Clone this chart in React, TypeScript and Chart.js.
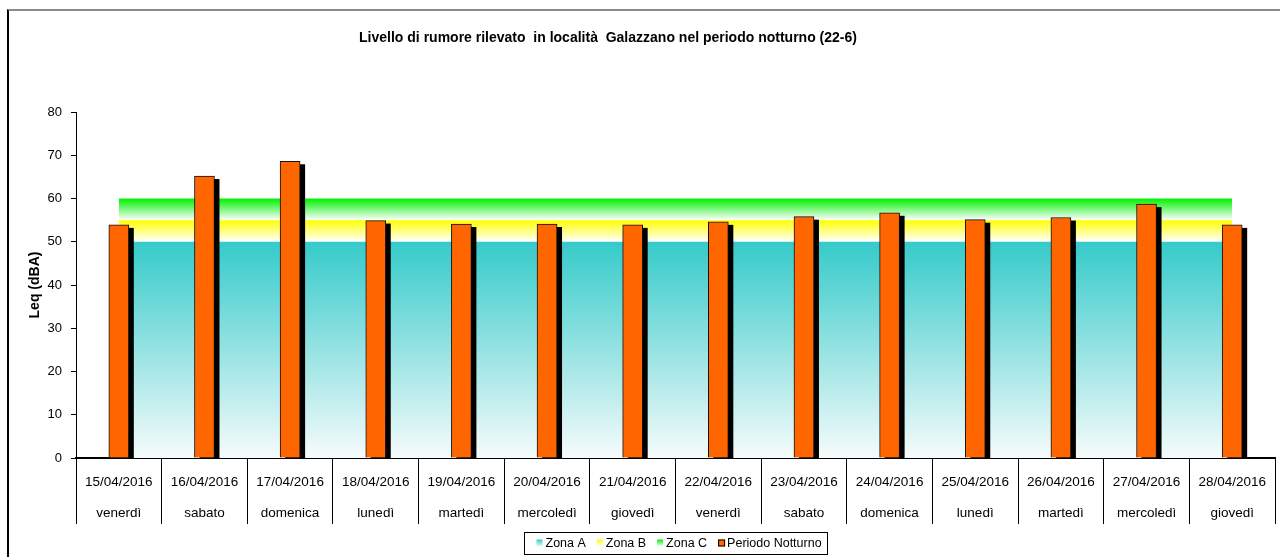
import React, { useEffect, useRef } from "react";
import { Chart, registerables } from "chart.js";

Chart.register(...registerables);

const FONT = "'Liberation Sans', Arial, Helvetica, sans-serif";

const titleText = "Livello di rumore rilevato  in località  Galazzano nel periodo notturno (22-6)";
const yAxisTitle = "Leq (dBA)";

const dates = [
  "15/04/2016", "16/04/2016", "17/04/2016", "18/04/2016", "19/04/2016", "20/04/2016", "21/04/2016",
  "22/04/2016", "23/04/2016", "24/04/2016", "25/04/2016", "26/04/2016", "27/04/2016", "28/04/2016",
];
const weekdays = [
  "venerdì", "sabato", "domenica", "lunedì", "martedì", "mercoledì", "giovedì",
  "venerdì", "sabato", "domenica", "lunedì", "martedì", "mercoledì", "giovedì",
];

const periodoNotturno = [53.9, 65.2, 68.6, 54.9, 54.1, 54.1, 53.9, 54.6, 55.8, 56.7, 55.1, 55.6, 58.7, 53.9];
const zonaA = [50, 50, 50, 50, 50, 50, 50, 50, 50, 50, 50, 50, 50, 50];
const zonaB = [55, 55, 55, 55, 55, 55, 55, 55, 55, 55, 55, 55, 55, 55];
const zonaC = [60, 60, 60, 60, 60, 60, 60, 60, 60, 60, 60, 60, 60, 60];

const yMin = 0;
const yMax = 80;
const yStep = 10;

const COLOR_A = "#36CACA";
const COLOR_B = "#FFFF00";
const COLOR_C = "#00F000";
const COLOR_BAR = "#FF6600";

function zoneGradient(context: any, top: number, bottom: number, color: string, bottomColor: string) {
  const chart = context.chart;
  const y = chart.scales && chart.scales.y;
  if (!chart.chartArea || !y) return color;
  const g = chart.ctx.createLinearGradient(0, y.getPixelForValue(top), 0, y.getPixelForValue(bottom));
  g.addColorStop(0, color);
  g.addColorStop(1, bottomColor);
  return g;
}

const barShadowPlugin = {
  id: "barShadow",
  beforeDatasetDraw(chart: any, args: any) {
    const meta = args.meta;
    if (meta.type !== "bar") return;
    const ctx = chart.ctx;
    const area = chart.chartArea;
    ctx.save();
    ctx.beginPath();
    ctx.rect(area.left, area.top, area.right - area.left, area.bottom - area.top);
    ctx.clip();
    ctx.fillStyle = "#000000";
    meta.data.forEach((el: any) => {
      const p = el.getProps(["x", "y", "base", "width"], true);
      ctx.fillRect(p.x - p.width / 2 + 5, p.y + 3, p.width, p.base - p.y);
    });
    ctx.restore();
  },
};

const decorPlugin = {
  id: "decor",
  afterDraw(chart: any) {
    const ctx = chart.ctx;
    const area = chart.chartArea;
    ctx.save();
    // Title
    ctx.fillStyle = "#000";
    ctx.font = `bold 14px ${FONT}`;
    ctx.textAlign = "center";
    ctx.textBaseline = "middle";
    ctx.fillText(titleText, 608, 38);

    // Legend
    const items = chart.data.datasets.map((d: any, i: number) => ({ label: d.label, i }));
    const order = [1, 2, 3, 0];
    ctx.font = `12.5px ${FONT}`;
    const sq = 6;
    const gapText = 3;
    const gapItem = 11;
    const padL = 12;
    const padR = 6;
    let total = padL + padR;
    order.forEach((idx, k) => {
      total += sq + gapText + ctx.measureText(items[idx].label).width;
      if (k < order.length - 1) total += gapItem;
    });
    const cx = (area.left + area.right) / 2;
    const left = Math.round(cx - total / 2) + 0.5;
    const top = 532.5;
    const h = 22;
    ctx.strokeStyle = "#000";
    ctx.lineWidth = 1;
    ctx.strokeRect(left, top, Math.round(total), h);
    let x = left + padL;
    const yc = top + h / 2;
    const legendColors: any = {
      1: [COLOR_A, "#f0fafa"],
      2: [COLOR_B, "#ffffff"],
      3: [COLOR_C, "#ffffff"],
    };
    order.forEach((idx) => {
      const lbl = items[idx].label;
      if (idx === 0) {
        ctx.fillStyle = COLOR_BAR;
        ctx.fillRect(x, yc - 4, 7, 7);
        ctx.strokeStyle = "#000";
        ctx.strokeRect(x + 0.5, yc - 3.5, 6, 6);
      } else {
        const [c1, c2] = legendColors[idx];
        const g = ctx.createLinearGradient(0, yc - 4, 0, yc + 3);
        g.addColorStop(0, c1);
        g.addColorStop(1, c2);
        ctx.fillStyle = g;
        ctx.fillRect(x, yc - 4, sq, 7);
      }
      x += sq + gapText;
      ctx.fillStyle = "#000";
      ctx.textAlign = "left";
      ctx.textBaseline = "middle";
      ctx.fillText(lbl, x, yc + 0.5);
      x += ctx.measureText(lbl).width + gapItem;
    });
    ctx.restore();
  },
};

export default function App() {
  const canvasRef = useRef<HTMLCanvasElement | null>(null);

  useEffect(() => {
    const canvas = canvasRef.current;
    if (!canvas) return;
    const labels = dates.map((d, i) => [d, weekdays[i]]);
    const chart = new Chart(canvas, {
      type: "bar",
      data: {
        labels,
        datasets: [
          {
            type: "bar",
            label: "Periodo Notturno",
            data: periodoNotturno,
            backgroundColor: COLOR_BAR,
            borderColor: "#111111",
            borderWidth: 1,
            barThickness: 20,
            order: 0,
          } as any,
          {
            type: "line",
            label: "Zona A",
            data: zonaA,
            fill: "origin",
            backgroundColor: (c: any) => zoneGradient(c, zonaA[0], yMin, COLOR_A, "#f6fbfb"),
            borderColor: "transparent",
            borderWidth: 0,
            pointRadius: 0,
            tension: 0,
            order: 1,
          } as any,
          {
            type: "line",
            label: "Zona B",
            data: zonaB,
            fill: "-1",
            backgroundColor: (c: any) => zoneGradient(c, zonaB[0], zonaA[0], COLOR_B, "#ffffff"),
            borderColor: "transparent",
            borderWidth: 0,
            pointRadius: 0,
            tension: 0,
            order: 2,
          } as any,
          {
            type: "line",
            label: "Zona C",
            data: zonaC,
            fill: "-1",
            backgroundColor: (c: any) => zoneGradient(c, zonaC[0], zonaB[0], COLOR_C, "#ffffff"),
            borderColor: "transparent",
            borderWidth: 0,
            pointRadius: 0,
            tension: 0,
            order: 3,
          } as any,
        ],
      },
      options: {
        responsive: false,
        animation: false,
        events: [],
        layout: { padding: { left: 8, right: 5, top: 112, bottom: 29 } },
        plugins: {
          legend: { display: false },
          title: { display: false },
          tooltip: { enabled: false },
        },
        scales: {
          x: {
            offset: true,
            grid: {
              offset: true,
              drawOnChartArea: false,
              drawTicks: true,
              tickLength: 66,
              color: "#000",
              lineWidth: 1,
            },
            border: { display: true, color: "#000", width: 2 },
            ticks: {
              color: "#000",
              font: { family: FONT, size: 13.5, lineHeight: 2.3 },
              padding: -57.5,
              maxRotation: 0,
              minRotation: 0,
              autoSkip: false,
            },
            afterFit(scale: any) {
              scale.height = 70;
            },
          },
          y: {
            min: yMin,
            max: yMax,
            ticks: {
              stepSize: yStep,
              color: "#000",
              font: { family: FONT, size: 13 },
              padding: 9,
            },
            grid: {
              drawOnChartArea: false,
              drawTicks: true,
              tickLength: 5,
              color: "#000",
            },
            border: { display: true, color: "#000", width: 1 },
            title: {
              display: true,
              text: yAxisTitle,
              color: "#000",
              font: { family: FONT, size: 14, weight: "bold" },
              padding: { top: 19, bottom: 0 },
            },
            afterFit(scale: any) {
              scale.width = 68;
            },
          },
        },
      } as any,
      plugins: [barShadowPlugin, decorPlugin],
    });
    return () => chart.destroy();
  }, []);

  return (
    <div style={{ position: "fixed", left: 0, top: 0, width: 1280, height: 557, background: "#fff", overflow: "hidden" }}>
      <div
        style={{
          position: "absolute",
          left: 7,
          top: 9,
          width: 1400,
          height: 700,
          borderLeft: "2px solid #000",
          borderTop: "2px solid #8a8a8a",
        }}
      />
      <canvas ref={canvasRef} width={1280} height={557} style={{ position: "absolute", left: 0, top: 0 }} />
    </div>
  );
}
